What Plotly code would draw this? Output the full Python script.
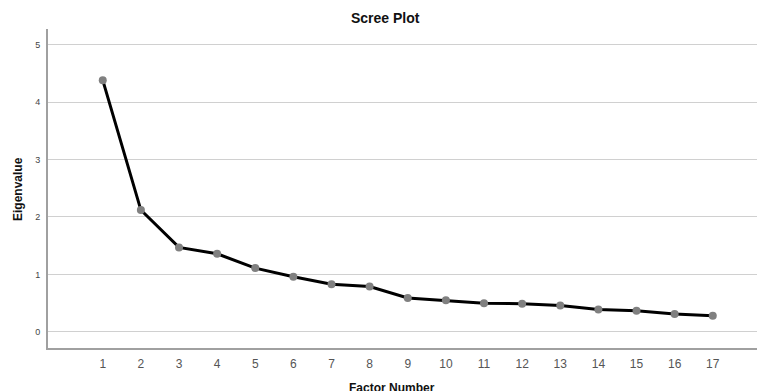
import plotly.graph_objects as go

factors = list(range(1, 18))
eigenvalues = [4.38, 2.12, 1.47, 1.36, 1.11, 0.96, 0.83, 0.79, 0.59, 0.55,
               0.50, 0.49, 0.46, 0.39, 0.37, 0.31, 0.28]
x_ticks = list(range(1, 18))
y_ticks = [0, 1, 2, 3, 4, 5]

W, H = 758, 391
L, R, T, B = 48, 1, 29, 43

fig = go.Figure()
fig.add_trace(go.Scatter(
    x=factors, y=eigenvalues, mode="lines+markers",
    line=dict(color="#000000", width=3),
    marker=dict(color="#808080", size=8),
    cliponaxis=False, showlegend=False,
))

fig.update_layout(
    width=W, height=H,
    margin=dict(l=L, r=R, t=T, b=B),
    paper_bgcolor="white", plot_bgcolor="white",
    font=dict(family="Liberation Sans, Arial, sans-serif", color="#333333"),
    xaxis=dict(
        range=[-0.436, 18.16], tickvals=x_ticks, ticktext=[str(v) for v in x_ticks],
        showgrid=False, zeroline=False, showline=True, linecolor="#a0a0a0", linewidth=2,
        ticks="", tickfont=dict(size=12, color="#555555"), ticklabelstandoff=4,
    ),
    yaxis=dict(
        range=[-0.28, 5.27], tickvals=y_ticks, ticktext=[str(v) for v in y_ticks],
        showgrid=True, gridcolor="#d0d0d0", gridwidth=1, zeroline=False,
        showline=True, linecolor="#a0a0a0", linewidth=2,
        ticks="", tickfont=dict(size=9, color="#444444"), ticklabelstandoff=4,
    ),
    annotations=[
        dict(text="<b>Scree Plot</b>", xref="paper", yref="paper", x=(385 - L) / (W - L - R),
             y=1 + (29 - 18) / (H - T - B), showarrow=False, font=dict(size=14, color="#111111"),
             xanchor="center", yanchor="middle"),
        dict(text="<b>Factor Number</b>", xref="paper", yref="paper", x=(392 - L) / (W - L - R),
             y=-(388 - (H - B)) / (H - T - B), showarrow=False, font=dict(size=12, color="#111111"),
             xanchor="center", yanchor="middle"),
        dict(text="<b>Eigenvalue</b>", xref="paper", yref="paper", x=-(L - 18) / (W - L - R),
             y=(H - B - 189) / (H - T - B), showarrow=False, font=dict(size=12, color="#111111"),
             textangle=-90, xanchor="center", yanchor="middle"),
    ],
)

fig.write_html("out.html", config={"displayModeBar": False},
               post_script="document.body.style.margin='0';document.body.style.overflow='hidden';")
